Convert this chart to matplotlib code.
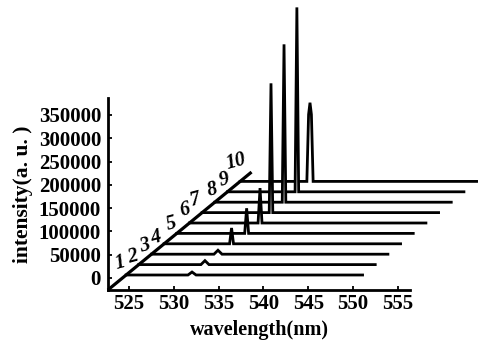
import matplotlib
matplotlib.use("Agg")
import matplotlib.pyplot as plt
import numpy as np

# ---- data ----
trace_ids = [1, 2, 3, 4, 5, 6, 7, 8, 9, 10]
peak_center = [532.03, 532.06, 532.10, 532.20, 532.47, 532.55, 532.36, 532.40, 532.42, 532.47]  # nm
peak_height = [6400, 8500, 8500, 34000, 54000, 75000, 277600, 339000, 396000, 169000]
peak_halfwidth = [0.45, 0.45, 0.45, 0.22, 0.22, 0.22, 0.2, 0.2, 0.2, 0.35]
wl_start = 524.68
wl_end = 551.05
baseline0 = 6440
step_y = 22330
step_x = 1.413

xticks = [525, 530, 535, 540, 545, 550, 555]
yticks = [0, 50000, 100000, 150000, 200000, 250000, 300000, 350000]

serif = ["Liberation Serif", "DejaVu Serif"]
plt.rcParams['font.family'] = serif

fig = plt.figure(figsize=(4.82, 3.43), dpi=100)
ax = fig.add_axes([108/482, 53/343, 302/482, 192/343])
ax.set_xlim(522.66, 556.34)
ax.set_ylim(-25770, 386500)

for s in ['top', 'right']:
    ax.spines[s].set_visible(False)
for s in ['left', 'bottom']:
    ax.spines[s].set_linewidth(2.0)

lw = 2.0
# diagonal
k0, k1 = -1.44, 9.9
ax.plot([wl_start + k0*step_x, wl_start + k1*step_x],
        [baseline0 + k0*step_y, baseline0 + k1*step_y],
        color='black', lw=lw + 0.3, solid_capstyle='butt', clip_on=False, zorder=30)

label_off = [(-6, 12), (-6, 8), (-7, 8), (-8, 6), (-5, 10), (-5, 13), (-7, 13), (-3, 12), (-3, 12), (-4, 20)]

for idx, i in enumerate(trace_ids):
    k = i - 1
    dx = k * step_x
    base = baseline0 + k * step_y
    c, h, hw = peak_center[idx], peak_height[idx], peak_halfwidth[idx]
    if i == 10:
        xs = [wl_start, c - hw, c - hw*0.45, c, c + hw*0.45, c + hw, wl_end]
        ys = [0, 0, h*0.85, h, h*0.85, 0, 0]
    else:
        xs = [wl_start, c - hw, c, c + hw, wl_end]
        ys = [0, 0, h, 0, 0]
    xs = np.array(xs) + dx
    ys = np.array(ys) + base
    z = 20 - i
    ax.fill_between(xs, base, ys, color='white', zorder=z, clip_on=False, lw=0)
    ax.plot(xs, ys, color='black', lw=lw, zorder=z + 0.5, clip_on=False,
            solid_joinstyle='miter')
    ox, oy = label_off[idx]
    ax.annotate(str(i), (wl_start + dx, base), xytext=(ox, oy), textcoords='offset pixels',
                ha='center', va='center', fontsize=14.5, style='italic', fontweight='bold',
                rotation=15, family=serif, zorder=40, annotation_clip=False)

ax.set_xticks(xticks)
ax.set_yticks(yticks)
ax.set_xticklabels([str(t) for t in xticks], fontsize=15, fontweight='bold')
ax.set_yticklabels([str(t) for t in yticks], fontsize=15, fontweight='bold')
ax.tick_params(direction='in', length=3, width=1.3)
ax.tick_params(axis='y', pad=5)
ax.tick_params(axis='x', pad=3)
ax.set_xlabel('wavelength(nm)', fontsize=14.5, fontweight='bold', labelpad=4)
ax.set_ylabel('intensity(a. u. )', fontsize=15.5, fontweight='bold', labelpad=4)

fig.savefig('out.png', dpi=100)
